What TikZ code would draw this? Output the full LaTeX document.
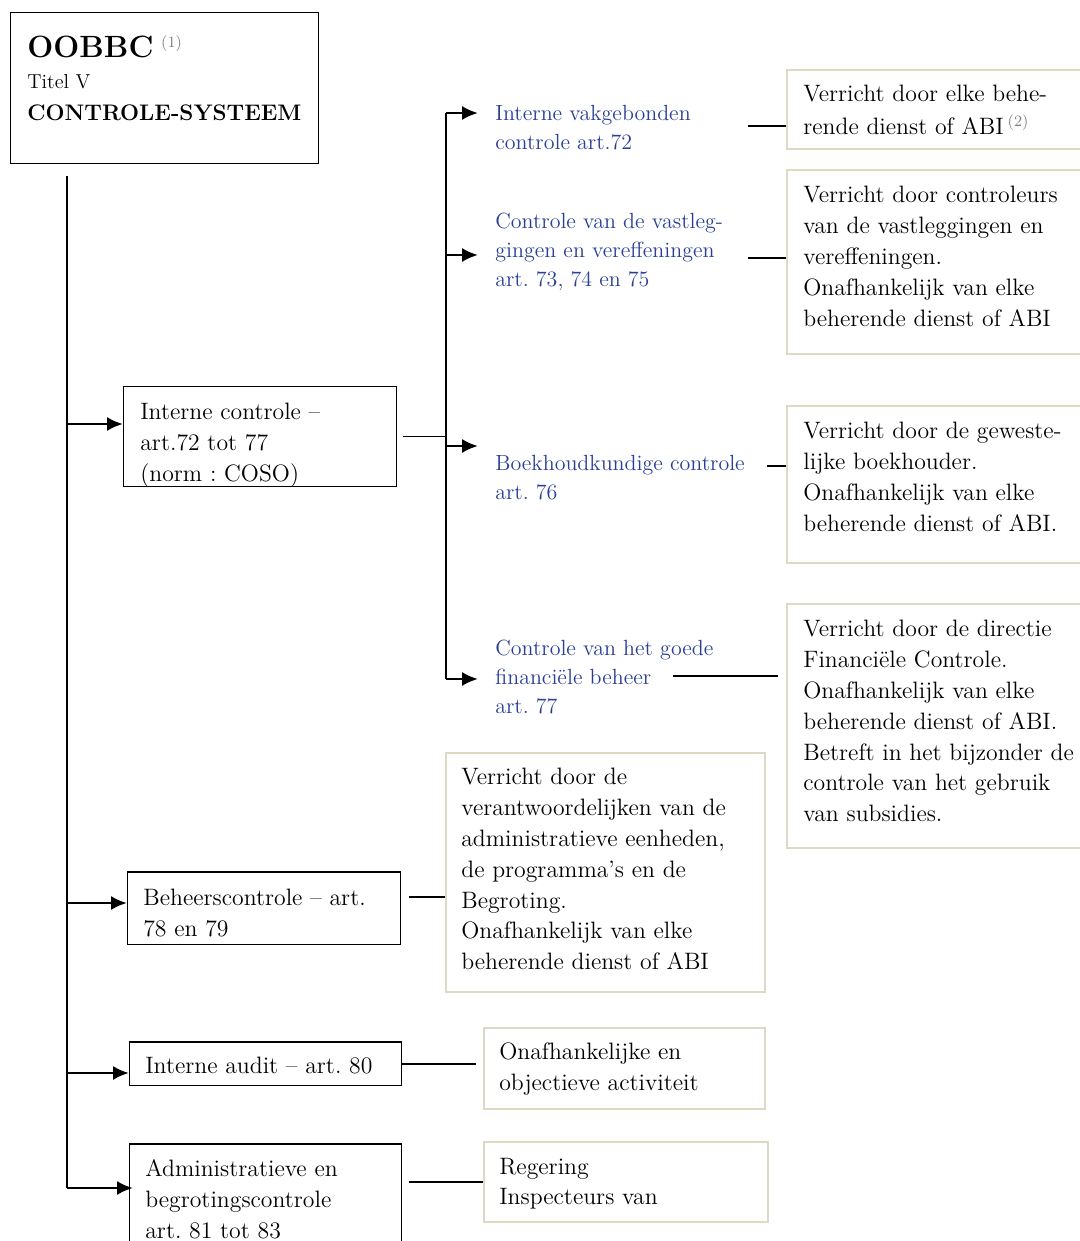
\documentclass[tikz,border=0pt]{standalone}
\usepackage{fontspec}
\usepackage{xcolor}
\usetikzlibrary{arrows.meta, positioning, calc}

\definecolor{framebeige}{RGB}{221,217,196}
\definecolor{refblue}{RGB}{42,62,150}
\frenchspacing

\begin{document}
\begin{tikzpicture}[
    x=0.02cm, y=-0.02cm,
    body/.style={
        font=\fontsize{13.5}{17.6}\selectfont,
        align=left,
        inner sep=0pt,
        anchor=north west
    },
    reftext/.style={
        font=\fontsize{12.5}{16.4}\selectfont,
        text=refblue,
        align=left,
        inner sep=0pt,
        anchor=north west
    },
    frame/.style={
        rectangle,
        draw=black,
        line width=0.85pt,
        anchor=north west,
        inner sep=0pt
    },
    note/.style={
        rectangle,
        draw=framebeige,
        line width=0.9pt,
        anchor=north west,
        inner sep=0pt
    },
    arrow/.style={
        -{Latex[length=9pt, width=8pt]},
        line width=1.6pt
    },
    link/.style={line width=0.8pt}
]
\useasboundingbox (0,0) rectangle (1079,1241);

% title block
\node[frame, minimum width=6.16cm, minimum height=3.02cm] (titlebox) at (10,12) {};
\node[anchor=base west, inner sep=0pt, font=\fontsize{17.5}{18}\selectfont\bfseries] (oobbc) at (27,57) {OOBBC};
\node[anchor=base west, inner sep=0pt, font=\fontsize{9}{10}\selectfont, text=gray] (fn1) at ([xshift=4pt, yshift=5.5pt]oobbc.base east) {(1)};
\node[anchor=base west, inner sep=0pt, font=\fontsize{11.5}{12}\selectfont] (titel) at (27,88) {Titel V};
\node[anchor=base west, inner sep=0pt, font=\fontsize{12.8}{14}\selectfont\bfseries] (systeem) at (27,120) {CONTROLE-SYSTEEM};

% left column
\node[frame, minimum width=5.46cm, minimum height=2.0cm] (icbox) at (123,386) {};
\node[body] (ictext) at (140,402.5) {Interne controle --\\art.72 tot 77\\(norm : COSO)};
\node[frame, minimum width=5.46cm, minimum height=1.46cm] (bcbox) at (127,871) {};
\node[body] (bctext) at (143,888.5) {Beheerscontrole -- art.\\78 en 79};
\node[frame, minimum width=5.44cm, minimum height=0.88cm] (iabox) at (129,1041) {};
\node[body] (iatext) at (145,1056.5) {Interne audit -- art. 80};
\node[frame, minimum width=5.44cm, minimum height=2.4cm] (abbox) at (129,1143) {};
\node[body] (abtext) at (145,1159.5) {Administratieve en\\begrotingscontrole\\art. 81 tot 83};

% blue articles
\node[reftext] (t1) at (495,105) {Interne vakgebonden\\controle art.72};
\node[reftext] (t2) at (495,213) {Controle van de vastleg-\\gingen en vereffeningen\\art. 73, 74 en 75};
\node[reftext] (t3) at (495,455) {Boekhoudkundige controle\\art. 76};
\node[reftext] (t4) at (495,640) {Controle van het goede\\financiële beheer\\art. 77};

% notes on the right
\node[note, minimum width=6.1cm, minimum height=1.58cm] (r1) at (786,69) {};
\node[body] (r1text) at (803,84.5) {Verricht door elke behe-\\[1.5pt]rende dienst of ABI\,{\fontsize{9}{10}\selectfont\color{gray}\raisebox{5pt}{(2)}}};
\node[note, minimum width=6.1cm, minimum height=3.68cm] (r2) at (786,169) {};
\node[body] (r2text) at (803,185.5) {Verricht door controleurs\\van de vastleggingen en\\vereffeningen.\\Onafhankelijk van elke\\beherende dienst of ABI};
\node[note, minimum width=6.1cm, minimum height=3.14cm] (r3) at (786,405) {};
\node[body] (r3text) at (803,421.5) {Verricht door de geweste-\\lijke boekhouder.\\Onafhankelijk van elke\\beherende dienst of ABI.};
\node[note, minimum width=6.1cm, minimum height=4.88cm] (r4) at (786,603) {};
\node[body] (r4text) at (803,619.5) {Verricht door de directie\\Financiële Controle.\\Onafhankelijk van elke\\beherende dienst of ABI.\\Betreft in het bijzonder de\\controle van het gebruik\\van subsidies.};

% notes in the middle
\node[note, minimum width=6.38cm, minimum height=4.78cm] (m1) at (445,752) {};
\node[body] (m1text) at (461,767.5) {Verricht door de\\verantwoordelijken van de\\administratieve eenheden,\\de programma’s en de\\Begroting.\\Onafhankelijk van elke\\beherende dienst of ABI};
\node[note, minimum width=5.62cm, minimum height=1.62cm] (m2) at (483,1027) {};
\node[body] (m2text) at (499,1042.5) {Onafhankelijke en\\objectieve activiteit};
\node[note, minimum width=5.68cm, minimum height=1.6cm] (m3) at (483,1141) {};
\node[body] (m3text) at (499,1157.5) {Regering\\Inspecteurs van};

% main spine
\coordinate (spinetop) at (67,176);
\coordinate (spinebot) at (67,1188);
\draw[link] (spinetop) -- (spinebot);
\coordinate (s1) at (67,424);
\coordinate (s2) at (67,903);
\coordinate (s3) at (67,1073);
\draw[arrow] (s1) -- (s1 -| icbox.west);
\draw[arrow] (s2) -- (s2 -| bcbox.west);
\draw[arrow] (s3) -- (s3 -| iabox.west);
\draw[arrow] (spinebot) -- ($(spinebot -| abbox.west)+(4,0)$);

% second spine
\coordinate (b1) at (446,113);
\coordinate (b2) at (446,255);
\coordinate (b3) at (446,446);
\coordinate (b4) at (446,679);
\draw[link] (b1) -- (b4);
\draw[link] ([xshift=0.12cm]icbox.east) -- (icbox.east -| b1);
\draw[arrow, shorten >=0.34cm] (b1) -- (b1 -| t1.west);
\draw[arrow, shorten >=0.34cm] (b2) -- (b2 -| t2.west);
\draw[arrow, shorten >=0.34cm] (b3) -- (b3 -| t3.west);
\draw[arrow, shorten >=0.34cm] (b4) -- (b4 -| t4.west);

% links to the notes
\coordinate (l1) at (748,126);
\coordinate (l2) at (748,258);
\coordinate (l3) at (767,466);
\coordinate (l4) at (673,676);
\draw[link] (l1) -- (l1 -| r1.west);
\draw[link] (l2) -- (l2 -| r2.west);
\draw[link] (l3) -- (l3 -| r3.west);
\draw[link, shorten >=0.16cm] (l4) -- (l4 -| r4.west);
\draw[link] ([xshift=0.16cm]bcbox.east |- 0,897) -- (m1.west |- 0,897);
\draw[link] (iabox.east |- 0,1064) -- ([xshift=-0.14cm]m2.west |- 0,1064);
\draw[link] ([xshift=0.14cm]abbox.east |- 0,1182) -- (m3.west |- 0,1182);

\end{tikzpicture}
\end{document}
